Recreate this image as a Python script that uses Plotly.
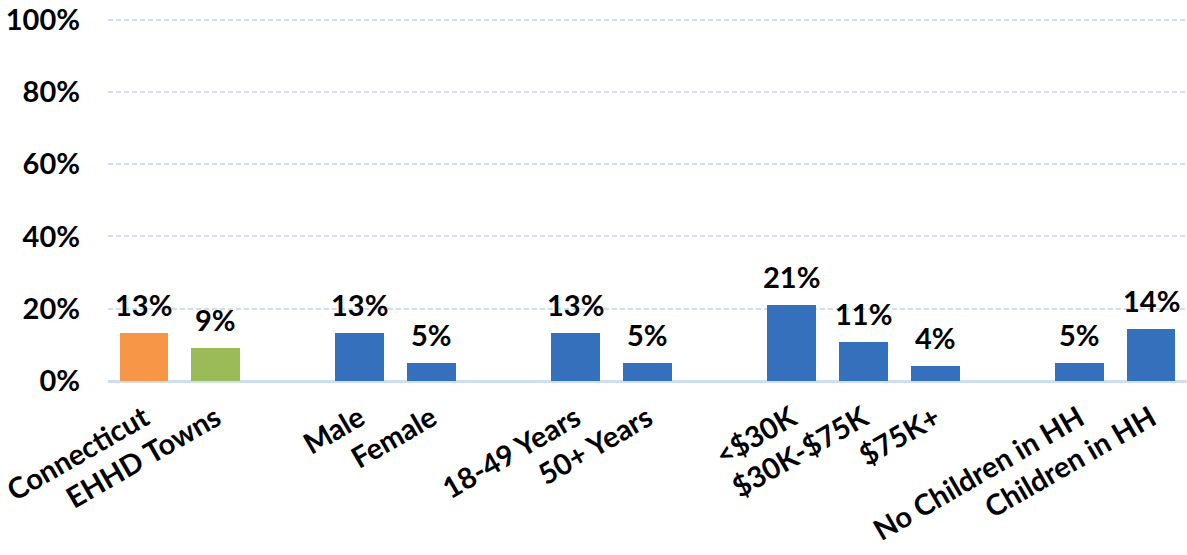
import plotly.graph_objects as go

# Data
groups = [
    ["Connecticut", "EHHD Towns"],
    ["Male", "Female"],
    ["18-49 Years", "50+ Years"],
    ["<$30K", "$30K-$75K", "$75K+"],
    ["No Children in HH", "Children in HH"],
]
values = [
    [13.3, 9.2],
    [13.4, 5.0],
    [13.4, 5.0],
    [21.1, 10.9, 4.2],
    [5.0, 14.4],
]
colors_first = ["#f79646", "#9bbb59"]
blue = "#3570bd"
ytick_vals = [0, 20, 40, 60, 80, 100]
ytick_text = ["0%", "20%", "40%", "60%", "80%", "100%"]

FONT = "Lato"
FS = 29

xs, names, vals, cols = [], [], [], []
pos = 0
for gi, (g, v) in enumerate(zip(groups, values)):
    for j, (n, val) in enumerate(zip(g, v)):
        xs.append(pos)
        names.append(n)
        vals.append(val)
        cols.append(colors_first[j] if gi == 0 else blue)
        pos += 1
    pos += 1
n_slots = pos - 1

fig = go.Figure()
fig.add_trace(go.Bar(
    x=xs, y=vals, width=0.68,
    marker=dict(color=cols, line=dict(width=0)),
    hoverinfo="skip",
))

for x, v in zip(xs, vals):
    fig.add_annotation(
        x=x, y=v, text=f"{round(v):d}%", showarrow=False,
        yanchor="bottom", yshift=9,
        font=dict(family=FONT, size=FS, color="black", weight="bold"),
    )

fig.update_layout(
    width=1187, height=555,
    margin=dict(l=108, r=0, t=16, b=174, autoexpand=False),
    plot_bgcolor="white", paper_bgcolor="white",
    showlegend=False,
    bargap=0,
)
fig.update_xaxes(
    range=[-0.5, n_slots - 0.5],
    tickmode="array", tickvals=xs, ticktext=names,
    tickangle=-30, automargin=False, ticklabelstandoff=14,
    tickfont=dict(family=FONT, size=FS, color="black", weight="bold"),
    showgrid=False, showline=False, zeroline=False, ticks="",
)
fig.update_yaxes(
    range=[0, 101], automargin=False,
    tickmode="array", tickvals=ytick_vals, ticktext=ytick_text,
    tickfont=dict(family=FONT, size=FS, color="black", weight="bold"),
    showgrid=True, gridcolor="#cfdff2", griddash="5px,3px", gridwidth=1.6,
    zeroline=True, zerolinecolor="#cfdff2", zerolinewidth=2.5,
    showline=False, ticks="", ticklabelstandoff=27,
)

fig.write_html(
    "out.html",
    config={"displayModeBar": False},
    post_script="document.body.style.margin='0';document.body.style.overflow='hidden';",
)
